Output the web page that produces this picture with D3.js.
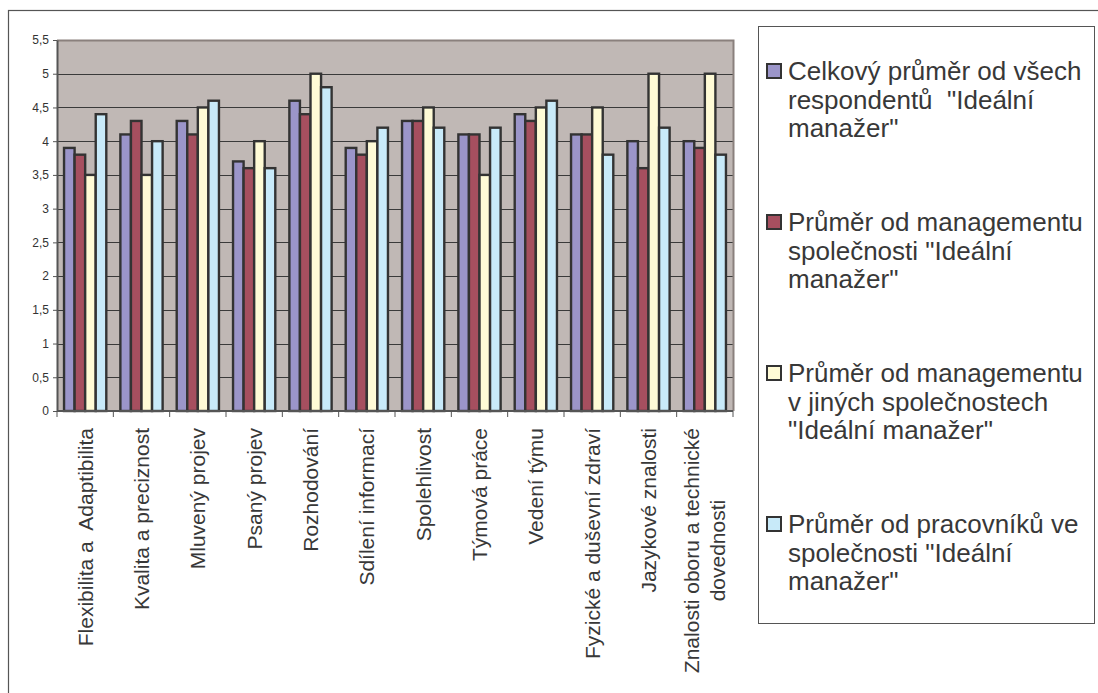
<!DOCTYPE html>
<html>
<head>
<meta charset="utf-8">
<script src="https://cdn.jsdelivr.net/npm/d3@7"></script>
<style>
  html, body { margin: 0; padding: 0; background: #fff; }
  svg { display: block; font-family: "Liberation Sans", Arial, Helvetica, sans-serif; }
</style>
</head>
<body>
<svg id="chart" width="1098" height="693"></svg>
<script>
// Hodnocení kompetencí "Ideálního manažera" podle skupin respondentů
const categories = [
  ["Flexibilita a  Adaptibilita"],
  ["Kvalita a preciznost"],
  ["Mluvený projev"],
  ["Psaný projev"],
  ["Rozhodování"],
  ["Sdílení informací"],
  ["Spolehlivost"],
  ["Týmová práce"],
  ["Vedení týmu"],
  ["Fyzické a duševní zdraví"],
  ["Jazykové znalosti"],
  ["Znalosti oboru a technické", "dovednosti"]
];

const seriesNames = [
  ["Celkový průměr od všech", "respondentů  \"Ideální", "manažer\""],
  ["Průměr od managementu", "společnosti \"Ideální", "manažer\""],
  ["Průměr od managementu", "v jiných společnostech", "\"Ideální manažer\""],
  ["Průměr od pracovníků ve", "společnosti \"Ideální", "manažer\""]
];

const celkovy     = [3.9, 4.1, 4.3, 3.7, 4.6, 3.9, 4.3, 4.1, 4.4, 4.1, 4.0, 4.0];
const management  = [3.8, 4.3, 4.1, 3.6, 4.4, 3.8, 4.3, 4.1, 4.3, 4.1, 3.6, 3.9];
const jineSpol    = [3.5, 3.5, 4.5, 4.0, 5.0, 4.0, 4.5, 3.5, 4.5, 4.5, 5.0, 5.0];
const pracovnici  = [4.4, 4.0, 4.6, 3.6, 4.8, 4.2, 4.2, 4.2, 4.6, 3.8, 4.2, 3.8];

const yTicks = [0, 0.5, 1, 1.5, 2, 2.5, 3, 3.5, 4, 4.5, 5, 5.5];

const seriesValues = [celkovy, management, jineSpol, pracovnici];
const colors = ["#9b95c9", "#a64f5f", "#fffbd6", "#c8eaf9"];

const svg = d3.select("#chart");
const plot = { left: 57, right: 733, top: 40, bottom: 411 };

// vnější rámeček
svg.append("rect")
  .attr("x", 8.5).attr("y", 10.5)
  .attr("width", 1200).attr("height", 800)
  .attr("fill", "none").attr("stroke", "#555").attr("stroke-width", 1.2);

const catIdx = categories.map((c, i) => i);
const x0 = d3.scaleBand().domain(catIdx).range([plot.left, plot.right])
  .paddingInner(0.25).paddingOuter(0.125);
const x1 = d3.scaleBand().domain(d3.range(seriesValues.length)).range([0, x0.bandwidth()]);
const y = d3.scaleLinear().domain([0, 5.5]).range([plot.bottom, plot.top]);

// pozadí grafu
svg.append("rect")
  .attr("x", plot.left).attr("y", plot.top)
  .attr("width", plot.right - plot.left).attr("height", plot.bottom - plot.top)
  .attr("fill", "#c0b8b5");

// vodorovné mřížky
svg.append("g").selectAll("line").data(yTicks.filter(t => t > 0 && t < 5.5)).join("line")
  .attr("x1", plot.left).attr("x2", plot.right)
  .attr("y1", d => Math.round(y(d)) + 0.5).attr("y2", d => Math.round(y(d)) + 0.5)
  .attr("stroke", "#3a3a3a").attr("stroke-width", 1);

// horní a pravý okraj plochy
svg.append("path")
  .attr("d", `M${plot.left},${plot.top + 0.5}H${plot.right + 0.5}V${plot.bottom}`)
  .attr("fill", "none").attr("stroke", "#8a807d").attr("stroke-width", 2);

// sloupce
const groups = svg.append("g").selectAll("g").data(catIdx).join("g")
  .attr("transform", i => `translate(${x0(i)},0)`);
groups.selectAll("rect")
  .data(i => seriesValues.map((vals, s) => ({ s, v: vals[i] })))
  .join("rect")
  .attr("x", d => x1(d.s))
  .attr("y", d => y(d.v))
  .attr("width", x1.bandwidth())
  .attr("height", d => y(0) - y(d.v))
  .attr("fill", d => colors[d.s])
  .attr("stroke", "#333")
  .attr("stroke-width", 2.4);

// osa Y
const yAxis = d3.axisLeft(y).tickValues(yTicks).tickSize(4).tickSizeOuter(0)
  .tickFormat(d => String(d).replace(".", ","));
const gy = svg.append("g").attr("transform", `translate(${plot.left},0)`).call(yAxis);
gy.select(".domain").attr("stroke", "#555").attr("stroke-width", 2);
gy.selectAll(".tick line").attr("stroke", "#555");
gy.selectAll(".tick text").attr("fill", "#333").attr("font-size", 12)
  .attr("font-family", "Liberation Sans, Arial, sans-serif").attr("x", -8);

// osa X
svg.append("line")
  .attr("x1", plot.left).attr("x2", plot.right)
  .attr("y1", plot.bottom).attr("y2", plot.bottom)
  .attr("stroke", "#555").attr("stroke-width", 2);
const step = x0.step();
svg.append("g").selectAll("line").data(d3.range(categories.length + 1)).join("line")
  .attr("x1", i => plot.left + i * step).attr("x2", i => plot.left + i * step)
  .attr("y1", plot.bottom).attr("y2", plot.bottom + 6)
  .attr("stroke", "#555").attr("stroke-width", 1);

// popisky kategorií (otočené)
const labelTop = 428;
const lineGap = 26;
categories.forEach((lines, i) => {
  const cx = x0(i) + x0.bandwidth() / 2;
  const g = svg.append("g");
  const texts = lines.map((t, k) => g.append("text")
    .attr("font-size", 21).attr("fill", "#383838")
    .attr("text-anchor", "middle")
    .attr("dominant-baseline", "central")
    .style("white-space", "pre")
    .text(t));
  const maxLen = d3.max(texts, t => t.node().getComputedTextLength());
  const cy = labelTop + maxLen / 2;
  const n = lines.length;
  texts.forEach((t, k) => {
    const ox = cx + (k - (n - 1) / 2) * lineGap;
    t.attr("transform", `translate(${ox},${cy}) rotate(-90)`);
  });
});

// legenda
svg.append("rect")
  .attr("x", 758.5).attr("y", 26.5).attr("width", 336).attr("height", 597)
  .attr("fill", "#fff").attr("stroke", "#555").attr("stroke-width", 1);

const legendFirst = 80, legendStep = 151, legendLine = 28.5;
seriesNames.forEach((lines, s) => {
  const base = legendFirst + s * legendStep;
  svg.append("rect")
    .attr("x", 767).attr("y", base - 16).attr("width", 14).attr("height", 14)
    .attr("fill", colors[s]).attr("stroke", "#333").attr("stroke-width", 2);
  lines.forEach((t, k) => {
    svg.append("text")
      .attr("x", 788).attr("y", base + k * legendLine)
      .attr("font-size", 26).attr("fill", "#383838")
      .style("white-space", "pre")
      .text(t);
  });
});
</script>
</body>
</html>
